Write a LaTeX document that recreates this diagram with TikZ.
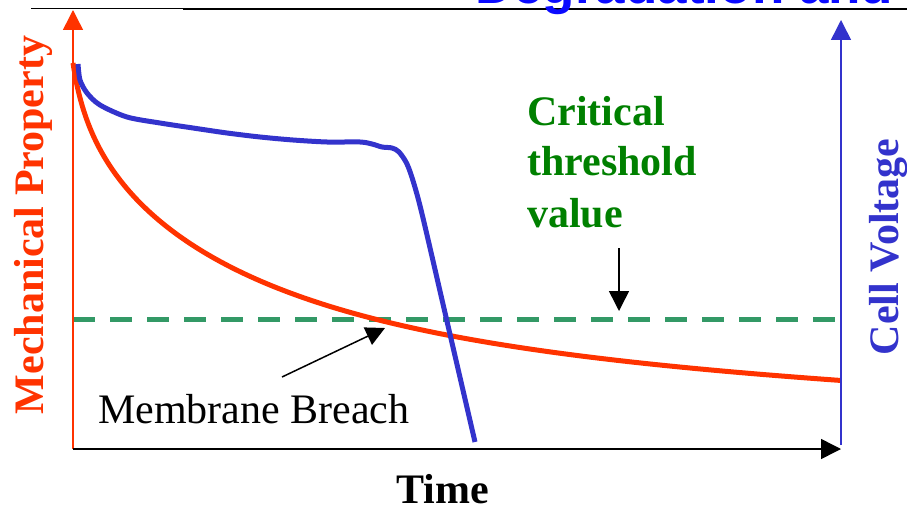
\documentclass[tikz,border=0pt]{standalone}
\usepackage{fontspec}
\setmainfont{Liberation Serif}
\newfontfamily\headfont{Liberation Sans}
\usetikzlibrary{arrows.meta}
\definecolor{mechred}{HTML}{FF3300}
\definecolor{voltblue}{HTML}{3333CC}
\definecolor{threshgreen}{HTML}{339966}
\definecolor{textgreen}{HTML}{008000}
\definecolor{headblue}{HTML}{0A0AFF}
\tikzset{
  lbl/.style={inner sep=0pt, font=\fontsize{42}{50}\selectfont},
  blbl/.style={inner sep=0pt, font=\fontsize{42}{50}\selectfont\bfseries},
  axisline/.style={line width=1.5pt, -{Triangle[length=20pt,width=20pt]}},
  curve/.style={line width=5pt, line join=round},
  pointer/.style={black, line width=1.5pt, -{Triangle[length=20pt,width=20pt]}}
}
\begin{document}
\begin{tikzpicture}[x=1pt,y=-1pt]
\useasboundingbox (0,0) rectangle (907,508);
% top rule and cut-off title
\draw[line width=1.5pt] (31,8.5) -- (907,8.5);
\draw[line width=2pt] (183,9) -- (907,9);
\node[inner sep=0pt, anchor=base west, text=headblue, font=\fontsize{53}{60}\selectfont\headfont\bfseries] (title) at (475,4) {Degradation and};
% axes coordinates
\coordinate (O) at (73,449);
\coordinate (Ytop) at (73,10);
\coordinate (Xend) at (841,449);
\coordinate (Rbot) at (841,445);
\coordinate (Rtop) at (841,20);
% threshold line
\coordinate (Tl) at (73,319);
\coordinate (Tr) at (841,319);
\draw[threshgreen, line width=5pt, dash pattern=on 22pt off 15pt] (Tl) -- (Tr);
% curves
\draw[curve, mechred] plot[domain=0:768, samples=300, smooth] ({73+\x},{63+50*ln(1+\x/8)+90*(1-exp(-\x/180))});
\draw[curve, voltblue] plot[smooth, tension=0.5] coordinates {(78,64) (80,80) (87,93) (100,105) (127,117) (160,123) (193,128) (227,133) (260,137) (293,140) (327,142) (360,142) (372,144) (382,147) (392,148) (399,152) (407,164) (414,184) (423,218) (449,330) (475,442)};
% axes
\draw[axisline, mechred] (O) -- (Ytop);
\draw[axisline, black] (O) -- (Xend);
\draw[axisline, voltblue] (Rbot) -- (Rtop);
% labels
\node[blbl, text=mechred, rotate=90, anchor=base] (ylab) at (43,225) {Mechanical Property};
\node[blbl, text=voltblue, rotate=90, anchor=base] (rlab) at (898,247) {Cell Voltage};
\node[blbl, anchor=base] (xlab) at (443,503) {Time};
\node[blbl, text=textgreen, anchor=base west] (crit1) at (527,125) {Critical};
\node[blbl, text=textgreen, anchor=base west] (crit2) at (527,175) {threshold};
\node[blbl, text=textgreen, anchor=base west] (crit3) at (527,227) {value};
\node[lbl, anchor=base west] (breach) at (98,423) {Membrane Breach};
% pointers
\coordinate (thrTop) at (619,248);
\coordinate (thrTip) at (619,311);
\draw[pointer] (thrTop) -- (thrTip);
\coordinate (brStart) at (282,377);
\coordinate (brTip) at (385,328);
\draw[pointer, -{Triangle[length=19pt,width=19pt]}] (brStart) -- (brTip);
\end{tikzpicture}
\end{document}
